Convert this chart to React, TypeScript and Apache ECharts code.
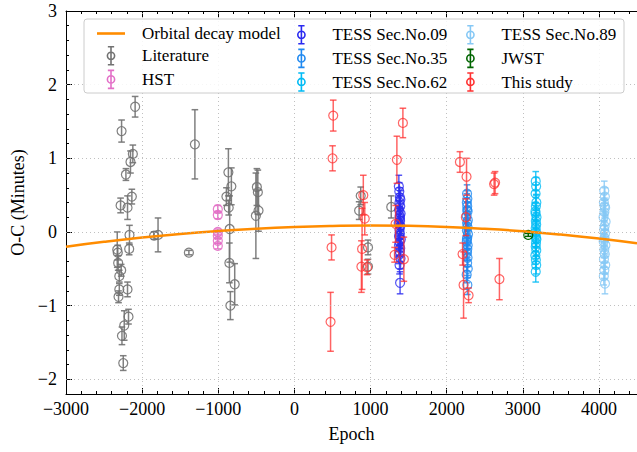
import React, { useEffect, useRef } from "react";
import * as echarts from "echarts";

// ---------- data ----------
const modelEpoch = [-3000, -2500, -2000, -1500, -1000, -500, 0, 500, 1000, 1500, 2000, 2500, 3000, 3500, 4000, 4500];
const modelOC = [-0.2, -0.134, -0.076, -0.027, 0.013, 0.045, 0.068, 0.082, 0.088, 0.083, 0.068, 0.043, 0.009, -0.036, -0.09, -0.155];

const litEpoch = [-2092, -2270, -2122, -2153, -2213, -2135, -2283, -2192, -2166, -2170, -2327, -2320, -2315, -2275, -2300, -2300, -2192, -2310, -2179, -2235, -2265, -2248, -1843, -1791, -1386, -1307, -867, -828, -893, -863, -850, -854, -784, -841, -493, -480, -506, -471, 871, 850, 967, 967, 1272];
const litOC = [1.70, 1.37, 1.06, 0.95, 0.78, 0.48, 0.36, 0.33, -0.04, -0.23, -0.24, -0.28, -0.42, -0.52, -0.60, -0.78, -0.78, -0.88, -1.15, -1.27, -1.41, -1.78, -0.05, -0.04, -0.28, 1.19, 0.81, 0.62, 0.48, 0.33, 0.04, -0.42, -0.71, -1.0, 0.61, 0.54, 0.22, 0.29, 0.49, 0.29, -0.21, -0.47, 0.34];
const litErr = [0.14, 0.15, 0.12, 0.15, 0.08, 0.10, 0.10, 0.16, 0.13, 0.08, 0.24, 0.10, 0.10, 0.08, 0.08, 0.08, 0.10, 0.08, 0.10, 0.20, 0.12, 0.10, 0.05, 0.23, 0.03, 0.47, 0.32, 0.25, 0.12, 0.10, 0.45, 0.27, 0.28, 0.19, 0.25, 0.30, 0.58, 0.28, 0.12, 0.12, 0.10, 0.10, 0.15];

const hstEpoch = [-1006, -1006, -1006, -1006, -1006, -1006];
const hstOC = [0.31, 0.23, 0.0, -0.05, -0.12, -0.19];
const hstErr = [0.05, 0.05, 0.04, 0.04, 0.04, 0.04];

const t09Epoch = [1372, 1378, 1385, 1380, 1390, 1375, 1395, 1383, 1388, 1370, 1392, 1380, 1386, 1376, 1398, 1382, 1374, 1390, 1385, 1378, 1394, 1381, 1388, 1384, 1379, 1392, 1386];
const t09OC = [0.62, 0.55, 0.47, 0.40, 0.35, 0.30, 0.25, 0.20, 0.15, 0.12, 0.08, 0.03, -0.02, -0.06, -0.10, -0.14, -0.18, -0.22, -0.27, -0.31, -0.36, -0.45, -0.69, 0.22, -0.05, 0.44, 0.18];
const t09Err = [0.15, 0.12, 0.13, 0.12, 0.14, 0.12, 0.13, 0.12, 0.14, 0.12, 0.13, 0.12, 0.14, 0.12, 0.13, 0.12, 0.14, 0.12, 0.13, 0.12, 0.14, 0.12, 0.15, 0.12, 0.13, 0.12, 0.14];

const t35Epoch = [2268, 2272, 2265, 2270, 2275, 2262, 2278, 2268, 2273, 2266, 2280, 2270, 2264, 2276, 2271, 2267, 2274, 2269, 2277, 2263, 2272, 2270, 2266];
const t35OC = [0.52, 0.45, 0.40, 0.35, 0.28, 0.22, 0.16, 0.12, 0.07, 0.02, -0.03, -0.08, -0.13, -0.18, -0.23, -0.28, -0.35, -0.42, -0.50, -0.58, -0.72, 0.30, -0.10];
const t35Err = [0.12, 0.11, 0.12, 0.11, 0.12, 0.11, 0.12, 0.11, 0.12, 0.11, 0.12, 0.11, 0.12, 0.11, 0.12, 0.11, 0.12, 0.11, 0.12, 0.11, 0.13, 0.11, 0.12];

const t62Epoch = [3170, 3175, 3168, 3178, 3172, 3166, 3180, 3171, 3176, 3169, 3174, 3167, 3179, 3173, 3170, 3177, 3165, 3172, 3176, 3170, 3168, 3174];
const t62OC = [0.69, 0.62, 0.52, 0.40, 0.35, 0.28, 0.20, 0.15, 0.10, 0.05, 0.00, -0.05, -0.10, -0.15, -0.20, -0.25, -0.32, -0.38, -0.45, -0.54, 0.25, -0.08];
const t62Err = [0.13, 0.12, 0.12, 0.11, 0.12, 0.11, 0.12, 0.11, 0.12, 0.11, 0.12, 0.11, 0.12, 0.11, 0.12, 0.11, 0.12, 0.11, 0.12, 0.14, 0.11, 0.12];

const t89Epoch = [4070, 4078, 4065, 4082, 4072, 4060, 4088, 4075, 4068, 4080, 4073, 4062, 4085, 4070, 4077, 4066, 4083, 4071, 4064, 4079, 4074, 4069];
const t89OC = [0.56, 0.48, 0.40, 0.33, 0.27, 0.20, 0.14, 0.08, 0.03, -0.02, -0.08, -0.13, -0.18, -0.24, -0.30, -0.37, -0.45, -0.52, -0.60, -0.70, 0.35, -0.10];
const t89Err = [0.13, 0.12, 0.12, 0.11, 0.12, 0.11, 0.12, 0.11, 0.12, 0.11, 0.12, 0.11, 0.12, 0.11, 0.12, 0.11, 0.12, 0.11, 0.12, 0.14, 0.11, 0.12];

const jwstEpoch = [3072];
const jwstOC = [-0.04];
const jwstErr = [0.02];

const studyEpoch = [510, 501, 488, 475, 905, 924, 889, 880, 954, 1346, 1425, 1329, 1316, 1438, 2174, 2261, 2252, 2209, 2222, 2288, 2623, 2636, 2693];
const studyOC = [1.58, 1.00, -0.21, -1.22, 0.50, 0.18, -0.23, -0.47, -0.48, 0.98, 1.48, 0.11, -0.31, -0.37, 0.95, 0.75, 0.20, -0.30, -0.72, -0.86, 0.65, 0.67, -0.64];
const studyErr = [0.21, 0.17, 0.17, 0.40, 0.27, 0.22, 0.55, 0.35, 0.10, 0.32, 0.20, 0.25, 0.10, 0.30, 0.14, 0.25, 0.25, 0.15, 0.45, 0.10, 0.15, 0.15, 0.28];

const xTicks = [-3000, -2000, -1000, 0, 1000, 2000, 3000, 4000];
const yTicks = [-2, -1, 0, 1, 2, 3];

const FONT = "'Liberation Serif', 'Times New Roman', serif";
const ERR_ICON = "path://M5 0L5 20M1.5 0L8.5 0M1.5 20L8.5 20M5 6A4 4 0 1 0 5 14A4 4 0 1 0 5 6Z";
const LINE_ICON = "path://M0 0L28 0L28 2.6L0 2.6Z";

const fmt = (v: number) => (v < 0 ? "\u2212" + Math.abs(v) : String(v));

function build(e: number[], v: number[], er: number[]) {
  return e.map((x, i) => [x, v[i], er[i]]);
}

function errSeries(name: string, color: string, data: number[][], opacity: number) {
  return {
    name,
    type: "custom",
    data,
    dimensions: ["x", "y", "err"],
    encode: { x: 0, y: 1 },
    itemStyle: { color },
    clip: true,
    renderItem: (params: any, api: any) => {
      const x = api.value(0);
      const y = api.value(1);
      const e = api.value(2);
      const p = api.coord([x, y]);
      const t = api.coord([x, y + e]);
      const b = api.coord([x, y - e]);
      const st = { stroke: color, lineWidth: 1.5, opacity };
      return {
        type: "group",
        children: [
          { type: "line", shape: { x1: p[0], y1: t[1], x2: p[0], y2: b[1] }, style: st },
          { type: "line", shape: { x1: p[0] - 3.3, y1: t[1], x2: p[0] + 3.3, y2: t[1] }, style: st },
          { type: "line", shape: { x1: p[0] - 3.3, y1: b[1], x2: p[0] + 3.3, y2: b[1] }, style: st },
          { type: "circle", shape: { cx: p[0], cy: p[1], r: 4.5 }, style: { fill: "none", stroke: color, lineWidth: 1.2, opacity } },
        ],
      };
    },
  };
}

const COLORS: Record<string, string> = {
  "Literature": "#727272",
  "HST": "#e36fc7",
  "TESS Sec.No.09": "#2a2af0",
  "TESS Sec.No.35": "#1e88f0",
  "TESS Sec.No.62": "#00bbf5",
  "TESS Sec.No.89": "#86c8f5",
  "JWST": "#006400",
  "This study": "#ff3030",
};

function legendItem(name: string) {
  return {
    name,
    icon: ERR_ICON,
    itemStyle: { color: "rgba(0,0,0,0)", borderColor: COLORS[name], borderWidth: 1.6 },
  };
}

export default function App() {
  const ref = useRef<HTMLDivElement>(null);
  useEffect(() => {
    if (!ref.current) return;
    const chart = echarts.init(ref.current, null, { renderer: "svg" });
    const legendBase = {
      orient: "vertical",
      top: 20,
      itemWidth: 28,
      itemHeight: 18,
      itemGap: 4,
      selectedMode: false,
      z: 20,
      textStyle: { fontFamily: FONT, fontSize: 17, color: "#000", padding: [0, 0, 0, 12] },
    };
    const minorTickX = { show: true, splitNumber: 5, length: 3, lineStyle: { color: "#000", width: 1 } };
    const option: any = {
      animation: false,
      backgroundColor: "#fff",
      textStyle: { fontFamily: FONT },
      grid: { left: 66, right: -3, top: 11, bottom: 58, containLabel: false },
      graphic: [
        {
          type: "rect",
          z: 10,
          shape: { x: 84, y: 19, width: 540, height: 74, r: 3 },
          style: { fill: "rgba(255,255,255,0.85)", stroke: "#cccccc", lineWidth: 1 },
        },
      ],
      legend: [
        {
          ...legendBase,
          left: 92,
          data: [
            { name: "Orbital decay model", icon: LINE_ICON, itemStyle: { color: "#ff8c00" } },
            legendItem("Literature"),
            legendItem("HST"),
          ],
        },
        { ...legendBase, left: 292, data: [legendItem("TESS Sec.No.09"), legendItem("TESS Sec.No.35"), legendItem("TESS Sec.No.62")] },
        { ...legendBase, left: 461, data: [legendItem("TESS Sec.No.89"), legendItem("JWST"), legendItem("This study")] },
      ],
      xAxis: [
        {
          type: "value",
          min: -3000,
          max: 4500,
          interval: 1000,
          name: "Epoch",
          nameLocation: "middle",
          nameGap: 31,
          nameTextStyle: { fontFamily: FONT, fontSize: 18, color: "#000" },
          axisLine: { onZero: false, lineStyle: { color: "#000", width: 1 } },
          axisTick: { inside: true, length: 6, lineStyle: { color: "#000" } },
          minorTick: minorTickX,
          axisLabel: { fontFamily: FONT, fontSize: 18, color: "#000", formatter: fmt, showMaxLabel: false, margin: 6 },
          splitLine: { show: false },
        },
        {
          type: "value",
          position: "top",
          min: -3000,
          max: 4500,
          interval: 1000,
          axisLine: { onZero: false, lineStyle: { color: "#000", width: 1 } },
          axisTick: { inside: true, length: 6, lineStyle: { color: "#000" } },
          minorTick: minorTickX,
          axisLabel: { show: false },
          splitLine: { show: false },
        },
      ],
      yAxis: [
        {
          type: "value",
          min: -2.2,
          max: 3,
          name: "O-C (Minutes)",
          nameLocation: "middle",
          nameGap: 35,
          nameTextStyle: { fontFamily: FONT, fontSize: 18, color: "#000" },
          axisLine: { onZero: false, lineStyle: { color: "#000", width: 1 } },
          axisTick: { inside: true, length: 6, lineStyle: { color: "#000" }, customValues: yTicks },
          axisLabel: { fontFamily: FONT, fontSize: 18, color: "#000", formatter: fmt, customValues: yTicks, margin: 9 },
          splitLine: { show: false },
        },
        {
          type: "value",
          position: "left",
          min: -2.2,
          max: 3,
          interval: 0.2,
          axisLine: { show: false, onZero: false },
          axisTick: { inside: true, length: 3, lineStyle: { color: "#000" } },
          axisLabel: { show: false },
          splitLine: { show: false },
        },
        {
          type: "value",
          position: "right",
          min: -2.2,
          max: 3,
          axisLine: { onZero: false, lineStyle: { color: "#000", width: 1 } },
          axisTick: { show: false },
          axisLabel: { show: false },
          splitLine: { show: false },
        },
      ],
      series: [
        {
          name: "Orbital decay model",
          type: "line",
          data: modelEpoch.map((x, i) => [x, modelOC[i]]),
          smooth: true,
          symbol: "none",
          color: "#ff8c00",
          lineStyle: { color: "#ff8c00", width: 2.5 },
          markLine: {
            silent: true,
            symbol: "none",
            label: { show: false },
            lineStyle: { type: [1, 3], color: "#b0b0b0", width: 0.8 },
            data: [
              ...xTicks.slice(1).map((v) => ({ xAxis: v })),
              ...yTicks.slice(0, -1).map((v) => ({ yAxis: v })),
            ],
          },
        },
        errSeries("Literature", COLORS["Literature"], build(litEpoch, litOC, litErr), 0.9),
        errSeries("HST", COLORS["HST"], build(hstEpoch, hstOC, hstErr), 0.9),
        errSeries("TESS Sec.No.09", COLORS["TESS Sec.No.09"], build(t09Epoch, t09OC, t09Err), 0.8),
        errSeries("TESS Sec.No.35", COLORS["TESS Sec.No.35"], build(t35Epoch, t35OC, t35Err), 0.8),
        errSeries("TESS Sec.No.62", COLORS["TESS Sec.No.62"], build(t62Epoch, t62OC, t62Err), 0.8),
        errSeries("TESS Sec.No.89", COLORS["TESS Sec.No.89"], build(t89Epoch, t89OC, t89Err), 0.8),
        errSeries("JWST", COLORS["JWST"], build(jwstEpoch, jwstOC, jwstErr), 1),
        errSeries("This study", COLORS["This study"], build(studyEpoch, studyOC, studyErr), 0.75),
      ],
    };
    chart.setOption(option);
    return () => chart.dispose();
  }, []);
  return <div ref={ref} style={{ width: 637, height: 452, position: "absolute", left: 0, top: 0 }} />;
}
